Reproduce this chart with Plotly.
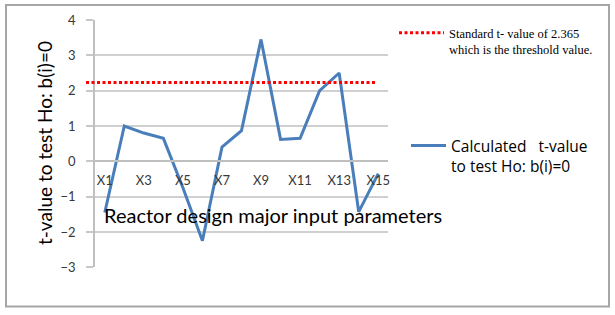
import plotly.graph_objects as go

# ---- data ----
categories = ["X%d" % i for i in range(1, 16)]
t_values = [-1.45, 1.0, 0.8, 0.65, -0.75, -2.25, 0.4, 0.87, 3.45, 0.62, 0.65, 2.0, 2.5, -1.43, -0.35]
threshold = 2.23
tick_labels = categories[::2]
y_min, y_max = -3, 4

series_name = "Calculated\u00a0\u00a0\u00a0t-value<br>to test Ho: b(i)=0"
threshold_name = "Standard t- value of 2.365<br>which is the threshold value."
x_title = "Reactor design major input parameters"
y_title = "t-value to test Ho: b(i)=0"

W, H = 615, 315
def px(x):
    return x / W
def py(y):
    return 1 - y / H

SANS = "Lato, 'Open Sans', sans-serif"
LEG_SANS = "'Open Sans', Lato, sans-serif"
SERIF = "'Liberation Serif', 'Times New Roman', serif"
xdom = [px(95), px(388)]
ydom = [py(267.3), py(20)]
x_axis_pos = ydom[0] + (0 - y_min) / (y_max - y_min) * (ydom[1] - ydom[0])

fig = go.Figure()
fig.add_trace(go.Scatter(
    x=categories, y=t_values, mode="lines", name=series_name,
    line=dict(color="#4a7ebb", width=3), legend="legend", showlegend=True,
))

fig.add_shape(
    type="line", xref="paper", yref="y",
    x0=px(86), x1=px(375), y0=threshold, y1=threshold,
    line=dict(color="#ff0000", width=3, dash="3px,2.5px"),
    showlegend=True, legend="legend2", name=threshold_name,
)

# outer border
fig.add_shape(type="rect", xref="paper", yref="paper",
              x0=px(6), x1=px(609), y0=py(306.5), y1=py(5),
              line=dict(color="#a6a6a6", width=2), layer="below")

fig.add_annotation(text=x_title, xref="paper", yref="paper",
                   x=px(102), y=py(215), xanchor="left", yanchor="middle",
                   showarrow=False, font=dict(family=SANS, size=20, color="#000000"))
fig.add_annotation(text=y_title, xref="paper", yref="paper",
                   x=px(45), y=py(143), xanchor="center", yanchor="middle",
                   textangle=-90, showarrow=False,
                   font=dict(family=SANS, size=19, color="#000000"))

fig.update_layout(
    width=W, height=H,
    margin=dict(l=0, r=0, t=0, b=0, autoexpand=False),
    paper_bgcolor="white", plot_bgcolor="white",
    showlegend=True,
    xaxis=dict(domain=xdom, type="category", range=[-0.5, 14.5],
               anchor="free", position=x_axis_pos, automargin=False,
               tickvals=tick_labels, ticktext=tick_labels,
               showgrid=False, showline=True, linecolor="#bfbfbf", linewidth=1.5,
               ticks="", ticklabelstandoff=7,
               tickfont=dict(family=SANS, size=13, color="#383838")),
    yaxis=dict(domain=ydom, range=[y_min, y_max], dtick=1, automargin=False,
               showgrid=True, gridcolor="#d0d0d0", gridwidth=1.5,
               zeroline=False, showline=True, linecolor="#bfbfbf", linewidth=1.5,
               ticks="outside", ticklen=7, tickcolor="#c8c8c8", tickwidth=1.5,
               ticklabelstandoff=8,
               tickfont=dict(family=SANS, size=13, color="#383838")),
    legend=dict(x=px(406), y=py(129), xanchor="left", yanchor="top",
                bgcolor="rgba(0,0,0,0)", valign="top", itemwidth=35,
                font=dict(family=LEG_SANS, size=15.5, color="#000000")),
    legend2=dict(x=px(394), y=py(18), xanchor="left", yanchor="top",
                 bgcolor="rgba(0,0,0,0)", valign="top", itemwidth=45,
                 font=dict(family=SERIF, size=12.5, color="#000000")),
)

fig.write_html("out.html", config={"displayModeBar": False},
               post_script="document.body.style.margin='0';document.body.style.overflow='hidden';")
